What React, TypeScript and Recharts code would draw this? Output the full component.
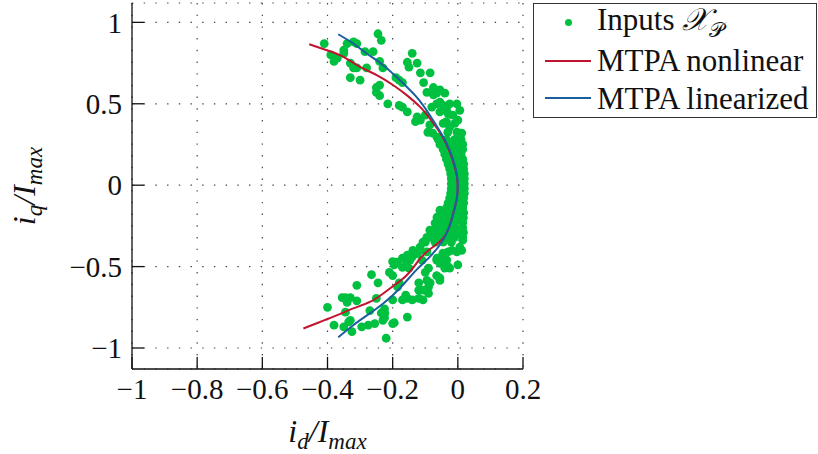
import React from 'react'
import { ScatterChart, Scatter, XAxis, YAxis, CartesianGrid, Legend } from 'recharts'

const GREEN = '#00c040'
const RED = '#c0142f'
const BLUE = '#1b5e9e'
const FONT = "'Liberation Serif', 'Times New Roman', serif"

const X_TICKS = [-1, -0.8, -0.6, -0.4, -0.2, 0, 0.2]
const Y_TICKS = [-1, -0.5, 0, 0.5, 1]

// measured inputs, [id, iq]
const inputsUpper: [number, number][] = [
  [-0.41, 0.87], [-0.245, 0.93], [-0.235, 0.89], [-0.34, 0.87], [-0.32, 0.88], [-0.31, 0.87],
  [-0.35, 0.83], [-0.35, 0.81], [-0.39, 0.8], [-0.38, 0.76], [-0.37, 0.78], [-0.285, 0.82],
  [-0.26, 0.82], [-0.33, 0.75], [-0.32, 0.72], [-0.31, 0.72], [-0.28, 0.72], [-0.24, 0.76],
  [-0.23, 0.72], [-0.33, 0.66], [-0.3, 0.645], [-0.14, 0.81], [-0.155, 0.755], [-0.15, 0.725],
  [-0.125, 0.75], [-0.115, 0.69], [-0.25, 0.6], [-0.24, 0.615], [-0.25, 0.57], [-0.24, 0.55],
  [-0.19, 0.66], [-0.18, 0.645], [-0.17, 0.63], [-0.105, 0.63], [-0.075, 0.6], [-0.095, 0.57],
  [-0.075, 0.555], [-0.065, 0.565], [-0.04, 0.565], [-0.215, 0.5], [-0.18, 0.49], [-0.17, 0.48],
  [-0.155, 0.45], [-0.125, 0.42], [-0.115, 0.4], [-0.13, 0.39], [-0.055, 0.51], [-0.045, 0.49],
  [-0.035, 0.47], [-0.055, 0.45], [-0.03, 0.44], [-0.015, 0.43], [0.0, 0.4], [-0.08, 0.48],
  [-0.065, 0.5], [-0.035, 0.39], [-0.045, 0.38], [-0.085, 0.69], [-0.055, 0.585], [-0.025, 0.5],
  [0.006, 0.46], [-0.003, 0.5], [-0.025, 0.356], [-0.009, 0.38], [-0.003, 0.326], [0.006, 0.32],
  [-0.018, 0.264], [-0.1, 0.43], [-0.086, 0.37], [-0.077, 0.32], [-0.092, 0.325], [-0.064, 0.295],
  [-0.031, 0.325], [0.012, 0.32],
]

const inputsBand: [number, number][] = [
  [-0.06, 0.28], [-0.035, 0.28], [-0.01, 0.28], [0.01, 0.28],
  [-0.055, 0.25], [-0.03, 0.25], [-0.005, 0.25], [0.015, 0.25],
  [-0.045, 0.22], [-0.02, 0.22], [0.005, 0.22], [0.015, 0.22],
  [-0.04, 0.19], [-0.015, 0.19], [0.01, 0.19],
  [-0.035, 0.16], [-0.01, 0.16], [0.015, 0.16],
  [-0.03, 0.13], [-0.005, 0.13], [0.018, 0.13],
  [-0.025, 0.1], [0.0, 0.1], [0.018, 0.1],
  [-0.022, 0.07], [0.0, 0.07], [0.02, 0.07],
  [-0.02, 0.04], [0.002, 0.04], [0.02, 0.04],
  [-0.02, 0.01], [0.0, 0.01], [0.02, 0.01],
  [-0.02, -0.02], [0.0, -0.02], [0.02, -0.02],
  [-0.022, -0.05], [0.0, -0.05], [0.02, -0.05],
  [-0.025, -0.08], [-0.002, -0.08], [0.018, -0.08],
  [-0.03, -0.11], [-0.005, -0.11], [0.018, -0.11],
  [-0.035, -0.14], [-0.01, -0.14], [0.015, -0.14],
  [-0.04, -0.17], [-0.015, -0.17], [0.01, -0.17], [0.018, -0.17],
  [-0.05, -0.2], [-0.025, -0.2], [0.0, -0.2], [0.017, -0.2],
  [-0.06, -0.23], [-0.035, -0.23], [-0.01, -0.23], [0.015, -0.23],
  [-0.065, -0.26], [-0.04, -0.26], [-0.015, -0.26], [0.015, -0.26],
  [-0.075, -0.29], [-0.05, -0.29], [-0.025, -0.29], [0.0, -0.29], [0.017, -0.29],
  [-0.085, -0.32], [-0.06, -0.32], [-0.035, -0.32], [-0.01, -0.32], [0.015, -0.32],
  [-0.1, -0.35], [-0.07, -0.35], [-0.045, -0.35], [-0.02, -0.35],
]

const inputsLower: [number, number][] = [
  [-0.4, -0.75], [-0.38, -0.86], [-0.355, -0.69], [-0.345, -0.69], [-0.34, -0.705], [-0.33, -0.69],
  [-0.34, -0.72], [-0.345, -0.78], [-0.33, -0.83], [-0.335, -0.84], [-0.35, -0.87], [-0.325, -0.9],
  [-0.31, -0.615], [-0.31, -0.71], [-0.295, -0.87], [-0.275, -0.86], [-0.255, -0.85], [-0.27, -0.77],
  [-0.265, -0.55], [-0.245, -0.6], [-0.25, -0.695], [-0.235, -0.785], [-0.225, -0.76], [-0.225, -0.815],
  [-0.195, -0.845], [-0.22, -0.94], [-0.155, -0.81], [-0.21, -0.535], [-0.2, -0.555], [-0.2, -0.47],
  [-0.195, -0.49], [-0.17, -0.45], [-0.155, -0.43], [-0.155, -0.47], [-0.17, -0.505], [-0.15, -0.51],
  [-0.18, -0.6], [-0.185, -0.625], [-0.2, -0.705], [-0.16, -0.675], [-0.155, -0.695], [-0.17, -0.705],
  [-0.14, -0.705], [-0.12, -0.695], [-0.12, -0.645], [-0.105, -0.645], [-0.12, -0.6], [-0.095, -0.585],
  [-0.085, -0.6], [-0.09, -0.625], [-0.1, -0.535], [-0.09, -0.51], [-0.065, -0.555], [-0.055, -0.57],
  [-0.11, -0.46], [-0.14, -0.44], [-0.125, -0.42], [-0.065, -0.46], [-0.045, -0.44], [-0.03, -0.41],
  [-0.003, -0.41], [-0.04, -0.51], [-0.025, -0.51], [-0.115, -0.4], [-0.095, -0.41],
  [-0.055, -0.154], [-0.064, -0.197], [-0.07, -0.233], [-0.055, -0.215], [-0.086, -0.276], [-0.095, -0.32],
  [-0.107, -0.35], [-0.116, -0.38], [-0.138, -0.4], [-0.147, -0.46], [-0.169, -0.448], [-0.187, -0.473],
  [0.015, -0.338], [0.006, -0.38], [0.012, -0.4], [-0.009, -0.258], [0.015, -0.295], [-0.046, -0.418],
  [-0.034, -0.46], [-0.055, -0.48], [-0.064, -0.448], [0.0, -0.49], [-0.018, -0.4], [-0.03, -0.5],
  [-0.055, -0.585], [-0.09, -0.665], [-0.107, -0.705], [-0.116, -0.645], [-0.2, -0.85], [-0.224, -0.786],
  [-0.23, -0.83],
]

const mtpaNonlinear: [number, number][] = [
  [-0.456, 0.866], [-0.402, 0.829], [-0.351, 0.788], [-0.3, 0.727], [-0.249, 0.676], [-0.198, 0.614],
  [-0.157, 0.553], [-0.116, 0.481], [-0.086, 0.41], [-0.045, 0.29], [-0.017, 0.16], [-0.002, 0.04],
  [-0.003, -0.08], [-0.018, -0.2], [-0.043, -0.32], [-0.096, -0.41], [-0.127, -0.48], [-0.157, -0.553],
  [-0.188, -0.604], [-0.229, -0.665], [-0.27, -0.717], [-0.321, -0.757], [-0.372, -0.8], [-0.423, -0.84],
  [-0.474, -0.88],
]

const mtpaLinearized: [number, number][] = [
  [-0.367, 0.927], [-0.321, 0.87], [-0.28, 0.809], [-0.229, 0.737], [-0.178, 0.645], [-0.127, 0.542],
  [-0.086, 0.43], [-0.04, 0.279], [-0.014, 0.154], [-0.001, 0.034], [-0.004, -0.089], [-0.019, -0.212],
  [-0.045, -0.335], [-0.086, -0.44], [-0.127, -0.52], [-0.178, -0.633], [-0.229, -0.727], [-0.279, -0.8],
  [-0.321, -0.86], [-0.367, -0.934],
]

const toPts = (arr: [number, number][]) => arr.map(([x, y]) => ({ x, y }))
const inputs = toPts([...inputsUpper, ...inputsBand, ...inputsLower])

const fmt = (v: number) => String(v).replace('-', '\u2212')

const Dot = (p: any) => <circle cx={p.cx} cy={p.cy} r={4.4} fill={GREEN} />
const NoShape = () => <g />

function XTitle({ viewBox }: any) {
  const cx = viewBox.x + viewBox.width / 2
  return (
    <text x={cx} y={442} textAnchor="middle" fontFamily={FONT} fontStyle="italic" fontSize={32} fill="#111">
      <tspan>i</tspan>
      <tspan dy={7} fontSize={23}>d</tspan>
      <tspan dy={-7}>/I</tspan>
      <tspan dy={7} fontSize={23}>max</tspan>
    </text>
  )
}

function YTitle({ viewBox }: any) {
  const cy = viewBox.y + viewBox.height / 2
  return (
    <text x={0} y={0} transform={`translate(35, ${cy}) rotate(-90)`} textAnchor="middle"
      fontFamily={FONT} fontStyle="italic" fontSize={32} fill="#111">
      <tspan>i</tspan>
      <tspan dy={7} fontSize={23}>q</tspan>
      <tspan dy={-7}>/I</tspan>
      <tspan dy={7} fontSize={23}>max</tspan>
    </text>
  )
}

function LegendBox() {
  const row: React.CSSProperties = { height: 37.7, display: 'flex', alignItems: 'center', whiteSpace: 'nowrap' }
  const mark: React.CSSProperties = { width: 63, position: 'relative', height: '100%', flexShrink: 0 }
  return (
    <div style={{ width: 282, height: 113, border: '1px solid #333', background: '#fff',
      fontFamily: FONT, fontSize: 31, color: '#111', lineHeight: 1 }}>
      <div style={row}>
        <div style={mark}>
          <div style={{ position: 'absolute', left: 31, top: 15, width: 7, height: 7, borderRadius: 4, background: GREEN }} />
        </div>
        <span>Inputs <i>{'\u{1D4B3}'}</i><sub style={{ fontSize: 21 }}>{'\u{1D4AB}'}</sub></span>
      </div>
      <div style={row}>
        <div style={mark}>
          <div style={{ position: 'absolute', left: 11, top: 18, width: 46, height: 2, background: RED }} />
        </div>
        <span>MTPA nonlinear</span>
      </div>
      <div style={row}>
        <div style={mark}>
          <div style={{ position: 'absolute', left: 11, top: 18, width: 46, height: 2, background: BLUE }} />
        </div>
        <span>MTPA linearized</span>
      </div>
    </div>
  )
}

export default function App() {
  const tickStyle = { fontSize: 29, fontFamily: FONT, fill: '#111' }
  return (
    <div style={{ position: 'absolute', left: 0, top: 0 }}>
      <ScatterChart width={818} height={454} margin={{ top: 3, right: 295, bottom: 25, left: 32 }}>
        <CartesianGrid stroke="#444" strokeDasharray="1.4 10.3" strokeWidth={1.2} />
        <XAxis type="number" dataKey="x" domain={[-1, 0.2]} ticks={X_TICKS} height={60}
          tickFormatter={fmt} tick={tickStyle} tickSize={-12} tickMargin={21}
          axisLine={{ stroke: '#111', strokeWidth: 1.3 }} tickLine={{ stroke: '#111', strokeWidth: 1.3 }}
          interval={0} allowDataOverflow label={{ content: XTitle }} />
        <XAxis xAxisId="top" orientation="top" type="number" dataKey="x" domain={[-1, 0.2]} ticks={X_TICKS}
          height={0} tick={false} tickSize={-10}
          axisLine={{ stroke: '#111', strokeWidth: 1.3 }} tickLine={{ stroke: '#111', strokeWidth: 1.3 }}
          interval={0} allowDataOverflow />
        <YAxis type="number" dataKey="y" domain={[-1.129, 1.119]} ticks={Y_TICKS} width={100}
          tickFormatter={fmt} tick={tickStyle} tickSize={-12} tickMargin={22}
          axisLine={{ stroke: '#111', strokeWidth: 1.3 }} tickLine={{ stroke: '#111', strokeWidth: 1.3 }}
          interval={0} allowDataOverflow label={{ content: YTitle }} />
        <YAxis yAxisId="right" orientation="right" type="number" dataKey="y" domain={[-1.129, 1.119]}
          ticks={Y_TICKS} width={0} tick={false} tickSize={-11}
          axisLine={{ stroke: '#111', strokeWidth: 1.3 }} tickLine={{ stroke: '#111', strokeWidth: 1.3 }}
          interval={0} allowDataOverflow />
        <Legend layout="horizontal" verticalAlign="middle" align="center" content={LegendBox}
          wrapperStyle={{ left: 533, top: 3, width: 284, height: 115 }} />
        <Scatter name="Inputs" data={inputs} shape={Dot} isAnimationActive={false} />
        <Scatter name="MTPA nonlinear" data={toPts(mtpaNonlinear)} shape={NoShape}
          line={{ stroke: RED, strokeWidth: 2 }} lineJointType="natural" isAnimationActive={false} />
        <Scatter name="MTPA linearized" data={toPts(mtpaLinearized)} shape={NoShape}
          line={{ stroke: BLUE, strokeWidth: 2 }} lineJointType="natural" isAnimationActive={false} />
      </ScatterChart>
    </div>
  )
}
